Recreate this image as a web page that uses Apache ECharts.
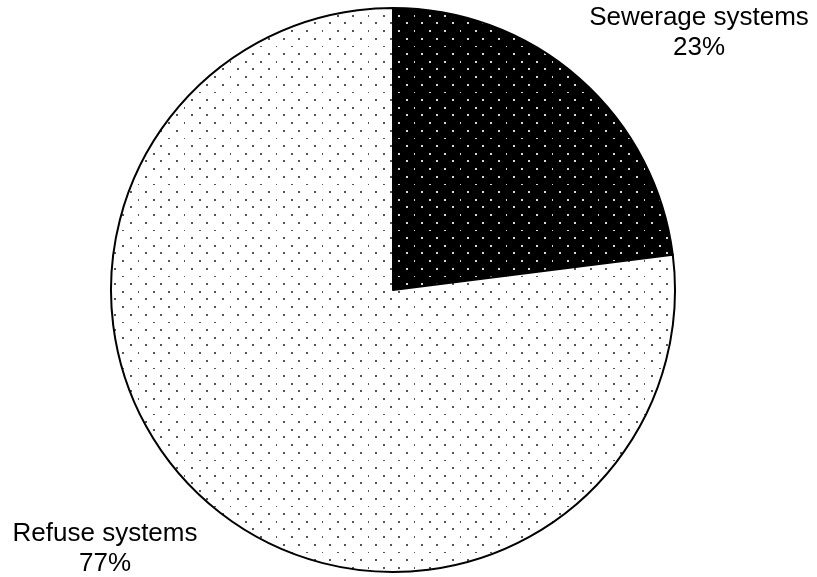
<!DOCTYPE html>
<html>
<head>
<meta charset="utf-8">
<script src="https://cdn.jsdelivr.net/npm/echarts@6/dist/echarts.min.js"></script>
<style>
html,body{margin:0;padding:0;background:#fff;}
#chart{width:817px;height:577px;}
</style>
</head>
<body>
<div id="chart"></div>
<script>
const categories = ["Sewerage systems", "Refuse systems"];
const shares = [23, 77];

function makeDots(bg, dot) {
  const size = 46;
  const c = document.createElement('canvas');
  c.width = size; c.height = size;
  const ctx = c.getContext('2d');
  ctx.fillStyle = bg;
  ctx.fillRect(0, 0, size, size);
  ctx.fillStyle = dot;
  const p = size / 3;
  for (let i = 0; i < 3; i++) {
    for (let j = 0; j < 3; j++) {
      const x1 = Math.round(8 + i * p) % size, y1 = Math.round(8 + j * p) % size;
      const x2 = Math.round(8 + p / 2 + i * p) % size, y2 = Math.round(8 + p / 2 + j * p) % size;
      ctx.fillRect(x1 - 1, y1 - 1, 2, 2);
      ctx.fillRect(x2 - 1, y2 - 1, 2, 2);
    }
  }
  return c;
}

const patterns = [
  { image: makeDots('#000000', '#d8d8d8'), repeat: 'repeat' },
  { image: makeDots('#ffffff', '#555555'), repeat: 'repeat' }
];
const labelPos = [[699, 33], [105, 549]];

const chart = echarts.init(document.getElementById('chart'), null, { renderer: 'canvas' });
chart.setOption({
  backgroundColor: '#ffffff',
  animation: false,
  series: [{
    type: 'pie',
    center: [393, 290],
    radius: 282,
    startAngle: 90,
    clockwise: true,
    silent: true,
    avoidLabelOverlap: false,
    data: categories.map((name, i) => ({
      name: name,
      value: shares[i],
      itemStyle: { color: patterns[i], borderColor: '#000', borderWidth: 2 }
    })),
    label: {
      show: true,
      position: 'outside',
      formatter: '{b}\n{d}%',
      color: '#000',
      fontFamily: 'Liberation Sans, Arial, sans-serif',
      fontSize: 26,
      lineHeight: 30,
      align: 'center',
      overflow: 'none',
      width: 400
    },
    labelLine: { show: false },
    labelLayout: function (params) {
      const p = labelPos[params.dataIndex];
      return { x: p[0], y: p[1], align: 'center', verticalAlign: 'middle' };
    }
  }]
});
</script>
</body>
</html>
